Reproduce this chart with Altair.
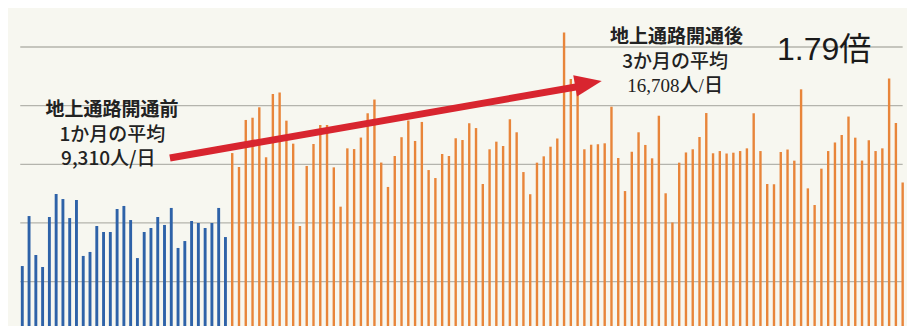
import altair as alt
import pandas as pd

# daily passengers (people/day)
before_values = [6330, 10590, 7270, 6250, 10510, 12470, 12040, 10420, 11960, 7190,
                 7530, 9740, 9230, 9230, 11190, 11450, 10250, 7010, 9230, 9570,
                 10510, 9830, 11280, 7870, 8460, 10170, 10000, 9570, 10000, 11280,
                 8800]
after_values = [15960, 14770, 18780, 18970, 19860, 15600, 20990, 21120, 18720, 16760,
                9740, 14860, 16730, 18350, 18350, 14740, 11390, 16360, 16300, 17280,
                19350, 20520, 15150, 13070, 15710, 17310, 18730, 16990, 18610, 14510,
                13830, 15880, 15710, 17220, 17070, 18500, 18090, 13320, 16280, 16930,
                16560, 18840, 17730, 14340, 12450, 15140, 15680, 16500, 17200, 26230,
                22280, 22340, 16280, 16670, 16710, 16790, 19910, 15540, 12720, 16070,
                17730, 16650, 15510, 19140, 12530, 10040, 15140, 16010, 16280, 17330,
                19370, 15940, 16130, 15920, 15990, 16130, 16360, 19350, 16130, 13320,
                13300, 16050, 16260, 15310, 21390, 12950, 11530, 14630, 16130, 16860,
                17500, 19070, 17270, 15320, 17050, 16130, 16360, 22310, 18520, 13450]
grid_values = [5000, 10000, 15000, 20000, 25000]

left_lines = ["地上通路開通前", "1か月の平均", "9,310人/日"]
right_lines = ["地上通路開通後", "3か月の平均", "16,708人/日"]
ratio_label = "1.79倍"

values = before_values + after_values
periods = ["before"] * len(before_values) + ["after"] * len(after_values)
bars = pd.DataFrame({"day": list(range(len(values))), "value": values,
                     "period": periods, "zero": [0] * len(values)})

xs = alt.Scale(domain=[-2.11, 130.64], nice=False, zero=False)
ys = alt.Scale(domain=[1219, 28322], nice=False, zero=False)
X = lambda f: alt.X(f, type="quantitative", scale=xs, axis=None)
Y = lambda f: alt.Y(f, type="quantitative", scale=ys, axis=None)

grid = alt.Chart(pd.DataFrame({"g": grid_values, "x1": -0.3, "x2": 130.0})).mark_rule(
    color="#b4b4ad", strokeWidth=1.3, clip=True
).encode(y=Y("g"), x=X("x1"), x2="x2")

bar_chart = alt.Chart(bars).mark_rule(clip=True).encode(
    x=X("day"), y=Y("value"), y2="zero",
    color=alt.Color("period:N", scale=alt.Scale(domain=["before", "after"],
                                                 range=["#2e62a8", "#e8853a"]), legend=None),
    strokeWidth=alt.StrokeWidth("period:N", scale=alt.Scale(domain=["before", "after"],
                                                             range=[2.9, 2.4]), legend=None),
)

arrow_line = alt.Chart(pd.DataFrame({"x": [21.8], "y": [15540], "x2": [82.8], "y2": [21700]})).mark_rule(
    color="#d8252f", strokeWidth=7, strokeCap="butt"
).encode(x=X("x"), y=Y("y"), x2="x2", y2="y2")

arrow_head = alt.Chart(pd.DataFrame({"x": [83.6], "y": [21890]})).mark_point(
    shape="M-1,-0.8L1,0L-1,0.8Z", size=729, filled=True, opacity=1,
    color="#d8252f", angle=350
).encode(x=X("x"), y=Y("y"))

left_df = pd.DataFrame({"t": left_lines, "x": [13.25, 13.3, 12.7], "y": [19628, 17497, 15427],
                        "w": ["bold", "normal", "normal"]})
right_df = pd.DataFrame({"t": right_lines, "x": [96.6, 96.4, 96.4], "y": [25850, 23719, 21674],
                         "w": ["bold", "normal", "normal"]})

def text_layer(df, font):
    bold = alt.Chart(df[df.w == "bold"]).mark_text(
        font="Noto Sans CJK JP", fontSize=19, fontWeight="bold", color="#222222",
        align="center", baseline="middle").encode(x=X("x"), y=Y("y"), text="t:N")
    norm = alt.Chart(df[df.w == "normal"].iloc[:1]).mark_text(
        font="Noto Sans CJK JP", fontSize=19, fontWeight=500, color="#222222",
        align="center", baseline="middle").encode(x=X("x"), y=Y("y"), text="t:N")
    last = alt.Chart(df[df.w == "normal"].iloc[1:]).mark_text(
        font=font, fontSize=19, fontWeight=500, color="#222222",
        align="center", baseline="middle").encode(x=X("x"), y=Y("y"), text="t:N")
    return bold + norm + last

left_text = text_layer(left_df, "Noto Sans CJK JP")
right_text = text_layer(right_df, "Liberation Serif, Noto Sans CJK JP")

ratio_text = alt.Chart(pd.DataFrame({"t": [ratio_label], "x": [118.4], "y": [24742]})).mark_text(
    font="Liberation Sans, Noto Sans CJK JP", fontSize=32, color="#1a1a1a",
    align="center", baseline="middle"
).encode(x=X("x"), y=Y("y"), text="t:N")

chart = alt.layer(grid, bar_chart, arrow_line, arrow_head, left_text, right_text, ratio_text).properties(
    width=899, height=318, padding=0, background="#f7f7f0"
).configure_view(stroke=None)

chart.save("out.html", embed_options={"renderer": "svg", "actions": False})
